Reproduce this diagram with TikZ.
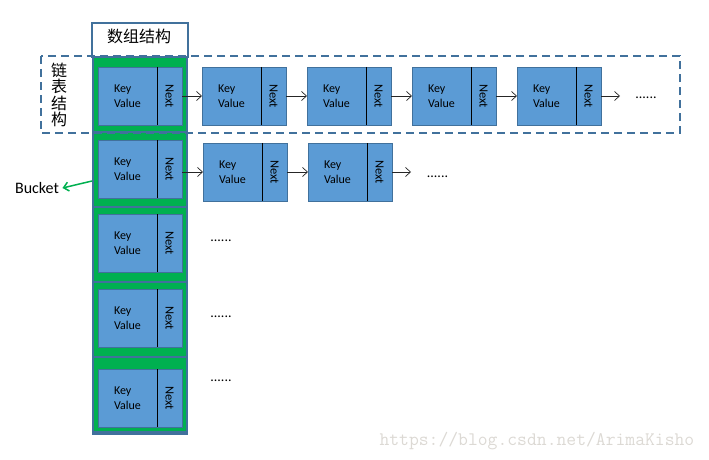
\documentclass[tikz,border=0pt]{standalone}
\usepackage{fontspec}
\usepackage{graphicx}
\usepackage{tikz}
\usetikzlibrary{arrows.meta}
\setmainfont{Carlito}
\newfontfamily\cjk{Noto Sans CJK SC}
\definecolor{boxblue}{HTML}{5B9BD5}
\definecolor{edgeblue}{HTML}{41719C}
\definecolor{cellgreen}{HTML}{00B050}
\definecolor{markgray}{HTML}{DCD9D4}
\tikzset{
	kvbox/.style={draw=edgeblue, fill=boxblue, line width=0.8pt, minimum width=59pt, minimum height=58pt, inner sep=0pt, outer sep=0pt, align=left, font=\fontsize{12}{15}\selectfont},
	nextbox/.style={draw=edgeblue, fill=boxblue, line width=0.8pt, minimum width=25pt, minimum height=58pt, inner sep=0pt, outer sep=0pt, font=\fontsize{12.5}{15}\selectfont},
	link/.style={-{Straight Barb[length=5pt,width=9pt]}, line width=0.7pt, black!85},
	dots/.style={anchor=base, inner sep=0pt, font=\fontsize{14}{16}\selectfont}
}
\newcommand{\makeentry}[3]{
	\node[kvbox, anchor=north west] (#1) at (#2,#3) {Key\\Value};
	\node[nextbox, anchor=north west] (#1n) at (#1.north east) {\rotatebox{-90}{Next}};
	\draw[line width=0.8pt] (#1.north east) -- (#1.south east);
}

\begin{document}
\begin{tikzpicture}[x=1pt,y=-1pt]
	\useasboundingbox (0,0) rectangle (709,460);

	% array
	\fill[edgeblue] (92,56) rectangle (188,435);
	\foreach \i in {0,...,4}
		\fill[cellgreen] (94,58+75*\i) rectangle (186,131+75*\i);
	\draw[edgeblue, line width=1.5pt] (92,23) rectangle (188,57);
	\node (head) at (139,36) {\cjk\fontsize{16}{18}\selectfont 数组结构};
	\foreach \y [count=\i] in {67,140,214,289,369}
		{\makeentry{a\i}{98}{\y}}

	% linked list frame
	\draw[edgeblue, line width=2pt, dash pattern=on 8pt off 5pt] (41,56) rectangle (680,133);
	\node[align=center, font=\cjk\fontsize{16}{16.5}\selectfont] (lst) at (59,95) {链\\表\\结\\构};

	% first chain
	\makeentry{b1}{202}{67}
	\makeentry{b2}{307}{67}
	\makeentry{b3}{412}{67}
	\makeentry{b4}{517}{67}
	\coordinate (e1) at (620,96);
	\node[dots] (d1) at (646,98) {......};
	\draw[link] (a1n) -- (b1);
	\draw[link] (b1n) -- (b2);
	\draw[link] (b2n) -- (b3);
	\draw[link] (b3n) -- (b4);
	\draw[link] (b4n) -- (e1);

	% second chain
	\makeentry{c1}{203}{143}
	\makeentry{c2}{308}{143}
	\coordinate (e2) at (411,172);
	\node[dots] (d2) at (437.5,177) {......};
	\draw[link] (c1.west -| a2n.east) -- (c1.west);
	\draw[link] (c1n) -- (c2);
	\draw[link] (c2n) -- (e2);

	% other buckets
	\node[dots] (d3) at (221,241) {......};
	\node[dots] (d4) at (221,317) {......};
	\node[dots] (d5) at (221,381) {......};

	% bucket label
	\node[font=\fontsize{16}{18}\selectfont] (bucket) at (37,188) {Bucket};
	\coordinate (bk) at (92,181);
	\draw[-{Straight Barb[length=5pt,width=9pt]}, cellgreen, line width=1.5pt] (bk) -- (bucket.east);

	\node[anchor=west, text=markgray, font=\ttfamily\fontsize{19.1}{20}\selectfont] (mark) at (376,441) {https://blog.csdn.net/ArimaKisho};
\end{tikzpicture}
\end{document}
